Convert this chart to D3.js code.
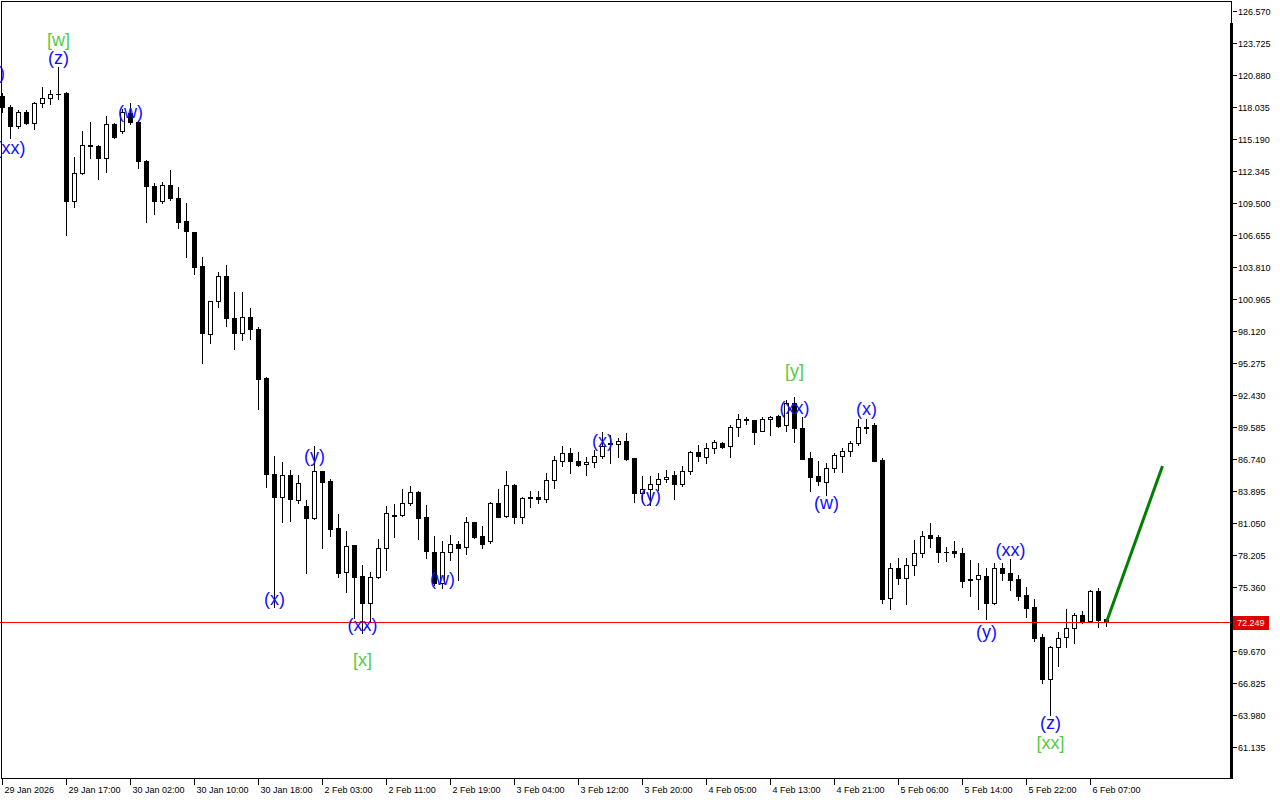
<!DOCTYPE html>
<html><head><meta charset="utf-8">
<script src="https://cdn.jsdelivr.net/npm/d3@7"></script>
<style>html,body{margin:0;padding:0;background:#fff;overflow:hidden}svg{display:block}</style>
</head><body>
<svg id="chart" width="1280" height="800"></svg>
<script>
// ---- data (hourly candles, index 0 = 29 Jan 2026 09:00) ----
const opens = [119.01,118.04,116.35,117.59,116.61,118.39,118.84,119.20,119.28,109.68,
112.17,114.66,114.57,113.50,116.52,115.90,117.50,116.70,113.23,111.01,
109.68,111.10,109.94,107.90,106.92,103.90,97.85,100.79,103.01,99.28,
97.94,99.37,98.30,93.94,85.41,83.36,85.32,83.10,82.56,81.49,
85.67,84.78,80.61,76.69,79.09,76.34,73.94,76.25,78.83,81.76,
81.76,82.83,83.81,81.58,78.47,75.72,78.47,79.18,78.92,81.14,
79.89,79.45,82.83,81.67,84.43,81.58,83.36,83.36,83.18,84.87,
86.56,87.27,86.56,86.30,86.47,87.01,88.16,88.07,88.34,86.83,
83.72,84.07,84.52,84.96,85.32,84.52,85.67,87.36,86.94,87.72,
88.16,87.90,89.59,90.30,90.21,89.26,90.27,90.56,89.76,91.69,
89.47,86.80,85.23,84.72,85.91,87.03,87.45,88.19,89.56,89.76,
86.65,74.36,77.02,76.13,77.32,78.41,79.98,79.78,78.50,78.56,
78.36,76.03,76.05,76.34,73.96,77.02,76.58,76.05,74.65,73.56,
70.89,67.15,70.00,70.89,71.69,72.87,72.36,75.00,72.49];
const highs = [119.28,118.21,117.77,117.77,118.48,119.81,119.55,121.59,119.37,113.59,
115.90,116.70,114.66,117.23,116.61,117.86,118.39,116.79,113.32,111.28,
111.37,112.43,110.92,109.50,106.92,104.70,100.79,103.37,103.99,101.59,
101.59,100.16,98.48,94.03,87.01,86.47,85.76,85.32,83.10,87.90,
85.67,84.96,81.85,80.34,79.09,77.32,76.69,79.63,82.56,82.74,
84.07,84.34,83.89,82.65,79.89,79.45,79.98,79.45,81.58,81.14,
80.78,82.92,84.07,85.67,84.52,83.36,83.89,83.89,85.50,87.01,
87.90,87.72,87.36,86.92,87.54,89.14,88.87,88.61,89.05,86.83,
85.23,85.23,85.50,85.76,85.67,86.12,87.45,87.98,88.14,88.43,
88.28,89.76,90.74,90.50,90.21,90.45,90.56,90.65,91.99,92.23,
90.45,87.39,86.56,86.36,87.25,87.69,88.37,90.27,90.27,89.91,
86.80,77.52,77.91,77.91,79.54,80.34,81.02,79.98,78.94,79.45,
78.80,77.76,77.52,77.08,77.47,77.47,77.82,76.43,75.39,74.27,
71.18,70.11,71.39,73.40,73.08,73.23,75.09,75.30,72.49];
const lows = [117.59,115.28,116.17,116.52,116.08,118.04,118.30,118.75,106.66,109.14,
112.08,113.50,111.63,112.26,115.28,115.72,116.52,112.61,107.81,108.52,
109.50,109.77,107.28,104.70,103.19,95.27,97.05,100.25,98.56,96.52,
97.30,97.41,91.19,84.25,73.58,81.14,81.23,82.83,76.60,81.41,
78.83,79.89,76.25,74.92,72.60,71.27,72.25,76.16,76.87,79.80,
81.67,82.65,79.63,77.94,75.54,75.27,77.76,75.98,78.29,79.72,
78.83,79.27,81.58,81.58,81.05,81.05,82.47,82.83,82.92,84.16,
86.12,85.50,86.12,85.32,86.03,86.83,86.38,86.92,86.65,82.92,
82.92,82.65,83.98,84.70,83.18,84.34,85.41,86.56,86.38,87.30,
87.69,86.94,88.78,89.85,88.07,89.23,88.87,89.61,89.26,88.28,
86.74,83.89,84.43,83.54,85.61,85.56,87.03,87.98,89.03,86.59,
73.96,73.40,75.63,73.82,76.43,78.05,78.94,77.61,77.70,78.05,
75.39,74.59,73.40,72.49,73.82,75.98,75.09,74.20,72.69,70.56,
66.85,63.98,68.34,70.05,70.41,72.13,72.28,71.83,71.92];
const closes = [118.04,116.35,117.59,116.61,118.39,118.84,119.19,119.18,109.68,112.17,
114.66,114.57,113.50,116.52,115.37,117.59,116.70,113.23,111.01,109.68,
111.10,109.94,107.81,107.01,103.81,97.94,100.79,103.01,99.28,97.94,
99.37,98.30,93.85,85.41,83.36,85.32,83.18,84.61,81.49,85.67,
84.70,80.52,76.60,79.01,76.25,73.94,76.25,78.83,81.94,81.67,
82.83,83.81,81.49,78.56,75.72,78.47,79.18,78.83,81.14,79.80,
79.18,82.83,81.58,84.43,81.58,83.27,83.23,83.18,84.87,86.65,
87.27,86.56,86.21,86.47,87.01,87.90,88.07,88.34,86.74,83.72,
84.07,84.52,84.96,85.14,84.52,85.67,87.36,86.97,87.69,88.25,
87.81,89.59,90.30,90.25,89.17,90.27,90.50,89.70,91.69,89.52,
86.74,85.17,84.81,85.91,87.10,87.45,88.19,89.56,89.50,86.59,
74.29,77.02,76.13,77.32,78.41,79.92,79.69,78.50,78.47,78.36,
75.92,75.94,76.43,73.96,77.02,76.58,75.98,74.59,73.52,70.85,
67.15,70.00,70.80,71.69,72.87,72.36,75.00,72.43,72.249];

const xTickIndex = [0,8,16,24,32,40,48,56,64,72,80,88,96,104,112,120,128,136];
const xTickLabels = ["29 Jan 2026","29 Jan 17:00","30 Jan 02:00","30 Jan 10:00","30 Jan 18:00",
"2 Feb 03:00","2 Feb 11:00","2 Feb 19:00","3 Feb 04:00","3 Feb 12:00","3 Feb 20:00",
"4 Feb 05:00","4 Feb 13:00","4 Feb 21:00","5 Feb 06:00","5 Feb 14:00","5 Feb 22:00","6 Feb 07:00"];
const yTickValues = [126.570,123.725,120.880,118.035,115.190,112.345,109.500,106.655,103.810,
100.965,98.120,95.275,92.430,89.585,86.740,83.895,81.050,78.205,75.360,72.515,69.670,66.825,63.980,61.135];

const waveText  = ["[w]","(z)","(y)","(xx)","(w)","(x)","(y)","(xx)","[x]","(w)","(x)","(y)",
                   "[y]","(xx)","(w)","(x)","(y)","(xx)","(z)","[xx]"];
const waveIndex = [7,7,-1,1,16,34,39,45,45,55,75,81,99,99,103,108,123,126,131,131];
const wavePrice = [123.99,122.39,121.06,114.39,117.59,74.29,87.01,71.98,68.87,76.07,88.34,83.45,
                   94.56,91.27,82.83,91.19,71.36,78.65,63.27,61.49];
const waveDegree = ["major","minor","minor","minor","minor","minor","minor","minor","major","minor",
                    "minor","minor","major","minor","minor","minor","minor","minor","minor","major"];

const forecastIndex = [138,145];
const forecastPrice = [72.249,86.12];
const lastPrice = 72.249;

// ---- drawing ----
const svg = d3.select("#chart");
const W = 1280, H = 800, right = 1231, bottom = 778;
const x = d3.scaleLinear().domain([0,138]).range([2.5,1106.5]);
const y = d3.scaleLinear().domain([61.135,126.57]).range([747,11]);
const py = v => Math.round(y(v));

svg.append("rect").attr("width",W).attr("height",H).attr("fill","#fff");
svg.append("defs").append("clipPath").attr("id","clip")
  .append("rect").attr("x",0).attr("y",2).attr("width",right).attr("height",bottom-2);
const plot = svg.append("g").attr("clip-path","url(#clip)");

const data = opens.map((o,i)=>({i,o,h:highs[i],l:lows[i],c:closes[i]}));

// wicks
plot.selectAll("line.wick").data(data).enter().append("line")
  .attr("x1",d=>x(d.i)).attr("x2",d=>x(d.i))
  .attr("y1",d=>py(d.h)).attr("y2",d=>py(d.l)+1)
  .attr("stroke","#000").attr("stroke-width",1).attr("shape-rendering","crispEdges");

// bodies
data.forEach(d=>{
  const cx = x(d.i);
  const top = py(Math.max(d.o,d.c)), bot = py(Math.min(d.o,d.c));
  const hgt = bot-top;
  if (hgt < 2) {
    plot.append("rect").attr("x",cx-2.5).attr("y",top).attr("width",5).attr("height",Math.max(1,hgt+1))
      .attr("fill","#000");
  } else if (d.c >= d.o) {
    plot.append("rect").attr("x",cx-2).attr("y",top+0.5).attr("width",4).attr("height",hgt)
      .attr("fill","#fff").attr("stroke","#000").attr("stroke-width",1);
  } else {
    plot.append("rect").attr("x",cx-2.5).attr("y",top).attr("width",5).attr("height",hgt+1)
      .attr("fill","#000");
  }
});

// last price line
const ly = py(lastPrice)+0.5;
plot.append("line").attr("x1",0).attr("x2",right).attr("y1",ly).attr("y2",ly)
  .attr("stroke","#ff0000").attr("stroke-width",1);

// forecast line
plot.append("line")
  .attr("x1",x(forecastIndex[0])).attr("y1",y(forecastPrice[0]))
  .attr("x2",x(forecastIndex[1])).attr("y2",y(forecastPrice[1]))
  .attr("stroke","#008000").attr("stroke-width",3);

// wave labels
plot.selectAll("text.wave").data(waveText).enter().append("text")
  .attr("x",(t,k)=>x(waveIndex[k])).attr("y",(t,k)=>y(wavePrice[k]))
  .attr("text-anchor","middle").attr("dominant-baseline","central")
  .attr("font-family","'Liberation Sans', Arial, sans-serif").attr("font-size",18)
  .attr("fill",(t,k)=>waveDegree[k]==="major" ? "#55cc44" : "#1010ff")
  .text(t=>t);

// frame
svg.append("line").attr("x1",1.5).attr("x2",1.5).attr("y1",1).attr("y2",bottom).attr("stroke","#000");
svg.append("line").attr("x1",1).attr("x2",right+1).attr("y1",1.5).attr("y2",1.5).attr("stroke","#000");
svg.append("line").attr("x1",right+0.5).attr("x2",right+0.5).attr("y1",1).attr("y2",23).attr("stroke","#000");
svg.append("rect").attr("x",1230).attr("y",23).attr("width",3).attr("height",bottom-23+1).attr("fill","#000");
svg.append("line").attr("x1",1).attr("x2",right+2).attr("y1",bottom+0.5).attr("y2",bottom+0.5).attr("stroke","#000");

// y axis (tick labels hidden where the last-price tag covers them)
const tagY = py(lastPrice);
const yAxis = svg.append("g").attr("font-family","'Liberation Sans', Arial, sans-serif").attr("font-size",9);
yTickValues.forEach(v=>{
  const yy = py(v)+0.5;
  yAxis.append("line").attr("x1",1233).attr("x2",1237).attr("y1",yy).attr("y2",yy).attr("stroke","#000");
  if (Math.abs(yy - tagY) > 14)
    yAxis.append("text").attr("x",1238).attr("y",yy+3.5).attr("fill","#000").text(v.toFixed(3));
});
// price tag
yAxis.append("rect").attr("x",1233).attr("y",tagY-6).attr("width",36).attr("height",14).attr("fill","#dd0000");
yAxis.append("text").attr("x",1237).attr("y",tagY+4).attr("fill","#fff").text(lastPrice.toFixed(3));

// x axis
const xAxis = svg.append("g").attr("font-family","'Liberation Sans', Arial, sans-serif").attr("font-size",9);
xTickIndex.forEach((idx,k)=>{
  const xx = Math.floor(x(idx))+0.5;
  xAxis.append("line").attr("x1",xx).attr("x2",xx).attr("y1",bottom+1).attr("y2",bottom+7).attr("stroke","#000");
  xAxis.append("text").attr("x",xx+2).attr("y",793).attr("fill","#000").text(xTickLabels[k]);
});
</script>
</body></html>
